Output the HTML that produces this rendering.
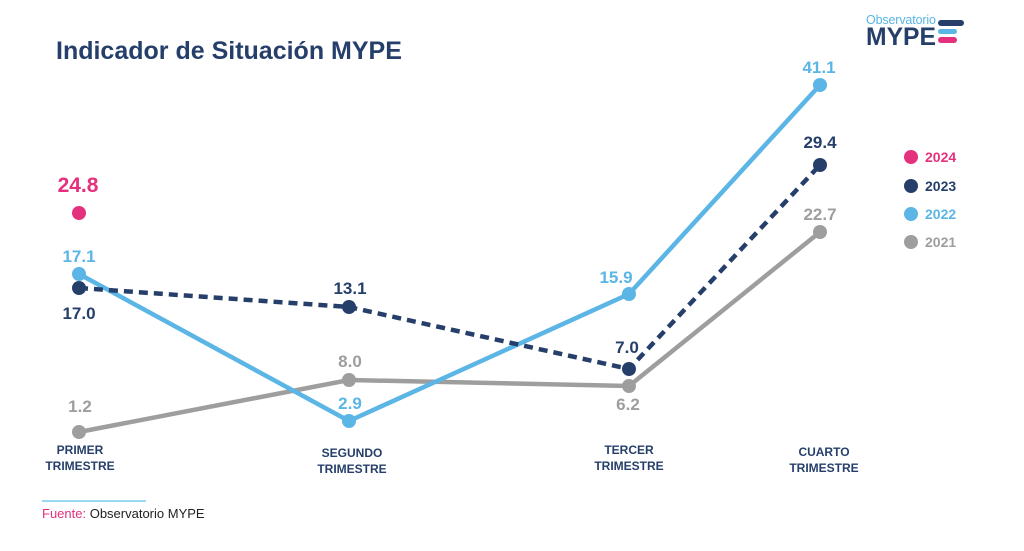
<!DOCTYPE html><html><head><style>body{margin:0;background:#fff;width:1024px;height:546px;overflow:hidden}</style></head><body>
<svg width="1024" height="546" xmlns="http://www.w3.org/2000/svg" font-family="Liberation Sans, sans-serif">
<text x="56" y="59" font-size="25" font-weight="bold" fill="#263f6a">Indicador de Situación MYPE</text>
<text x="866" y="24" font-size="12.5" fill="#5bb5e5" textLength="70">Observatorio</text>
<text x="866" y="45" font-size="25" font-weight="bold" fill="#263f6a" textLength="70" lengthAdjust="spacingAndGlyphs">MYPE</text>
<rect x="938" y="20" width="26" height="6" rx="3" fill="#263f6a"/>
<rect x="938" y="29" width="19" height="5" rx="2.5" fill="#5bb5e5"/>
<rect x="938" y="37" width="19" height="6" rx="3" fill="#e5307e"/>
<g fill="none" stroke-width="4.5">
<polyline points="79,432 349,380 629,386 820,232" stroke="#9e9e9e"/>
<polyline points="79,274 349,421 629,294 820,85" stroke="#5bb5e5"/>
<polyline points="79,288 349,307 629,369 820,165" stroke="#263f6a" stroke-dasharray="9,6"/>
</g>
<g fill="#9e9e9e"><circle cx="79" cy="432" r="7"/><circle cx="349" cy="380" r="7"/><circle cx="629" cy="386" r="7"/><circle cx="820" cy="232" r="7"/></g>
<g fill="#5bb5e5"><circle cx="79" cy="274" r="7"/><circle cx="349" cy="421" r="7"/><circle cx="629" cy="294" r="7"/><circle cx="820" cy="85" r="7"/></g>
<g fill="#263f6a"><circle cx="79" cy="288" r="7"/><circle cx="349" cy="307" r="7"/><circle cx="629" cy="369" r="7"/><circle cx="820" cy="165" r="7"/></g>
<circle cx="79" cy="213" r="7" fill="#e5307e"/>
<g font-weight="bold" font-size="17" text-anchor="middle">
<text x="78" y="192" font-size="21" fill="#e5307e">24.8</text>
<text x="79" y="262" fill="#5bb5e5">17.1</text>
<text x="79" y="319" fill="#263f6a">17.0</text>
<text x="80" y="412" fill="#9e9e9e">1.2</text>
<text x="350" y="294" fill="#263f6a">13.1</text>
<text x="350" y="367" fill="#9e9e9e">8.0</text>
<text x="350" y="409" fill="#5bb5e5">2.9</text>
<text x="616" y="283" fill="#5bb5e5">15.9</text>
<text x="627" y="353" fill="#263f6a">7.0</text>
<text x="628" y="410" fill="#9e9e9e">6.2</text>
<text x="819" y="73" fill="#5bb5e5">41.1</text>
<text x="820" y="148" fill="#263f6a">29.4</text>
<text x="820" y="220" fill="#9e9e9e">22.7</text>
</g>
<g font-size="14" font-weight="bold">
<circle cx="911" cy="157" r="7" fill="#e5307e"/><text x="925" y="162" fill="#e5307e">2024</text>
<circle cx="911" cy="186" r="7" fill="#263f6a"/><text x="925" y="191" fill="#263f6a">2023</text>
<circle cx="911" cy="214" r="7" fill="#5bb5e5"/><text x="925" y="219" fill="#5bb5e5">2022</text>
<circle cx="911" cy="242" r="7" fill="#9e9e9e"/><text x="925" y="247" fill="#9e9e9e">2021</text>
</g>
<g font-size="12" font-weight="bold" fill="#263f6a" text-anchor="middle">
<text x="80" y="454">PRIMER</text><text x="80" y="470">TRIMESTRE</text>
<text x="352" y="457">SEGUNDO</text><text x="352" y="473">TRIMESTRE</text>
<text x="629" y="454">TERCER</text><text x="629" y="470">TRIMESTRE</text>
<text x="824" y="456">CUARTO</text><text x="824" y="472">TRIMESTRE</text>
</g>
<line x1="42" y1="501" x2="146" y2="501" stroke="#5bc4e5" stroke-width="1.2"/>
<text x="42" y="518" font-size="13"><tspan fill="#e5307e">Fuente:</tspan><tspan fill="#222"> Observatorio MYPE</tspan></text>
</svg></body></html>
